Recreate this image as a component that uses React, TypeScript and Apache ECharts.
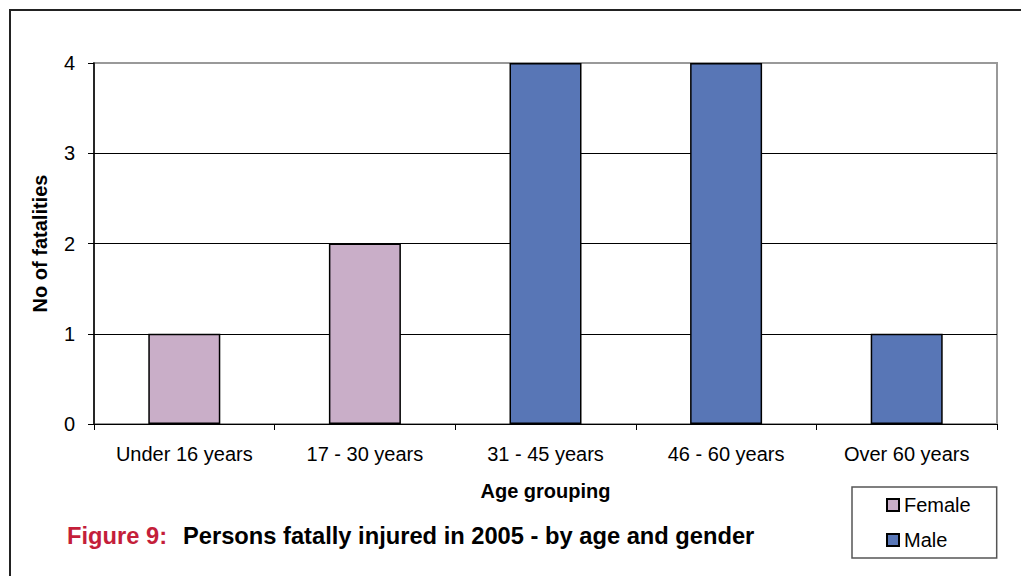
import React, { useEffect, useRef } from "react";
import * as echarts from "echarts";

const categories = ["Under 16 years", "17 - 30 years", "31 - 45 years", "46 - 60 years", "Over 60 years"];
const femaleValues: (number | string)[] = [1, 2, "-", "-", "-"];
const maleValues: (number | string)[] = ["-", "-", 4, 4, 1];
const yTicks = [0, 1, 2, 3, 4];

const FONT = "Liberation Sans, Arial, sans-serif";

export default function App() {
  const ref = useRef<HTMLDivElement>(null);
  useEffect(() => {
    if (!ref.current) return;
    const chart = echarts.init(ref.current, undefined, { renderer: "svg" });
    chart.setOption({
      animation: false,
      backgroundColor: "#fff",
      textStyle: { fontFamily: FONT },
      grid: {
        left: 94,
        top: 63,
        right: 24,
        bottom: 152,
        show: true,
        borderColor: "#999",
        borderWidth: 2,
      },
      legend: {
        orient: "vertical",
        left: 852,
        top: 487,
        padding: [8, 26, 8, 34],
        itemGap: 15,
        itemWidth: 12,
        itemHeight: 12,
        icon: "rect",
        borderColor: "#555",
        borderWidth: 1.5,
        textStyle: { fontSize: 20, color: "#000", fontFamily: FONT },
        data: ["Female", "Male"],
      },
      xAxis: {
        type: "category",
        data: categories,
        name: "Age grouping",
        nameLocation: "middle",
        nameGap: 57,
        nameTextStyle: { fontSize: 20, fontWeight: "bold", color: "#000", fontFamily: FONT },
        axisLine: { lineStyle: { color: "#000", width: 1 } },
        axisTick: { show: true, length: 6, lineStyle: { color: "#000" } },
        axisLabel: { fontSize: 20, color: "#000", margin: 20, fontFamily: FONT },
      },
      yAxis: {
        type: "value",
        min: yTicks[0],
        max: yTicks[yTicks.length - 1],
        interval: 1,
        name: "No of fatalities",
        nameLocation: "middle",
        nameGap: 44,
        nameTextStyle: { fontSize: 20, fontWeight: "bold", color: "#000", fontFamily: FONT },
        axisLine: { show: true, lineStyle: { color: "#000", width: 1.5 } },
        axisTick: { show: true, length: 6, lineStyle: { color: "#000" } },
        axisLabel: { fontSize: 20, color: "#000", margin: 19, fontFamily: FONT },
        splitLine: {
          show: true,
          lineStyle: { color: ["#000", "#000", "#000", "#000", "#999"], width: 1.2 },
        },
      },
      series: [
        {
          name: "Female",
          type: "bar",
          stack: "g",
          data: femaleValues,
          barWidth: 72,
          itemStyle: { color: "#C9AEC8", borderColor: "#000", borderWidth: 1.5 },
        },
        {
          name: "Male",
          type: "bar",
          stack: "g",
          data: maleValues,
          barWidth: 72,
          itemStyle: { color: "#5876B6", borderColor: "#000", borderWidth: 1.5 },
        },
      ],
      graphic: [
        {
          type: "rect",
          shape: { x: 10, y: 10, width: 1100, height: 700 },
          style: { fill: "none", stroke: "#222", lineWidth: 2 },
          silent: true,
        },
        {
          type: "text",
          x: 67,
          y: 536,
          style: {
            text: "Figure 9:",
            font: `bold 23.7px ${FONT}`,
            fill: "#C41E3A",
            verticalAlign: "middle",
          },
        },
        {
          type: "text",
          x: 183,
          y: 536,
          style: {
            text: "Persons fatally injured in 2005 - by age and gender",
            font: `bold 23.7px ${FONT}`,
            fill: "#000",
            verticalAlign: "middle",
          },
        },
      ],
    });
    return () => chart.dispose();
  }, []);
  return (
    <div
      ref={ref}
      style={{ position: "fixed", left: 0, top: 0, width: 1021, height: 576 }}
    />
  );
}
